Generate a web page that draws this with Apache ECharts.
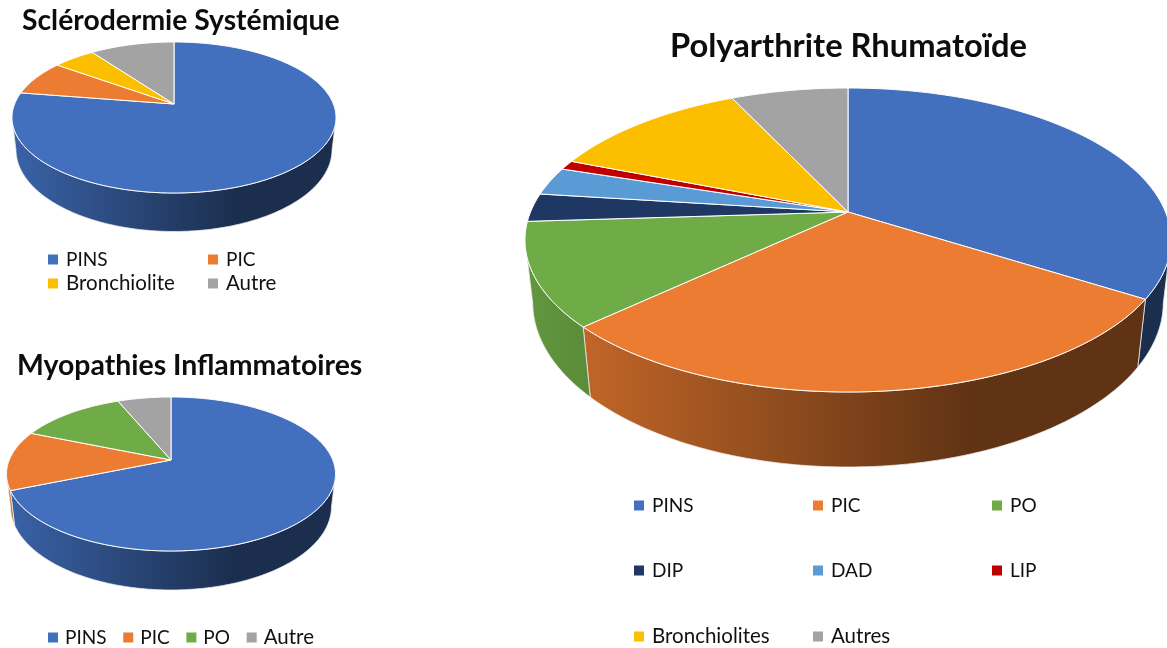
<!DOCTYPE html>
<html>
<head>
<meta charset="utf-8">
<script src="https://cdn.jsdelivr.net/npm/echarts@6/dist/echarts.min.js"></script>
<style>html,body{margin:0;padding:0;background:#fff}#chart{width:1167px;height:648px}</style>
</head>
<body>
<div id="chart"></div>
<script>
// ---- data ----
var ssTitle = 'Sclérodermie Systémique';
var ssNames = ['PINS', 'PIC', 'Bronchiolite', 'Autre'];
var ssValues = [31, 3, 2, 4];

var miTitle = 'Myopathies Inflammatoires';
var miNames = ['PINS', 'PIC', 'PO', 'Autre'];
var miValues = [11, 2, 2, 1];

var prTitle = 'Polyarthrite Rhumatoïde';
var prNames = ['PINS', 'PIC', 'PO', 'DIP', 'DAD', 'LIP', 'Bronchiolites', 'Autres'];
var prValues = [34, 29, 11, 3, 3, 1, 12, 7];

var palette = {
  'PINS': '#4270BF', 'PIC': '#EB7C31', 'PO': '#6FAC47', 'DIP': '#1F3763', 'DAD': '#5B9BD5',
  'LIP': '#C00000', 'Bronchiolite': '#FBBF00', 'Bronchiolites': '#FBBF00',
  'Autre': '#A3A3A3', 'Autres': '#A3A3A3'
};
var FONT = 'Lato';

// ---- perspective disc model (layout only) ----
function makeDisc(ax, ay, rx, back, front, wall) {
  var k = (front - back) / (front + back);
  return { cx: ax, ay: ay, k: k, A: back * (1 + k), B: rx * Math.sqrt(1 - k * k),
           H: wall * (1 - k), D: rx * 8.2, left: ax - rx, width: 2 * rx };
}
function rim(g, t) {
  var w = 1 + g.k * Math.cos(t);
  return [g.cx + g.B * Math.sin(t) / w, g.ay - g.A * Math.cos(t) / w, w];
}
function base(g, t) {
  var p = rim(g, t), dz = g.H / p[2];
  return [g.cx + (p[0] - g.cx) * (1 - dz / g.D), p[1] + dz];
}
function arc(g, a, b, fn) {
  var n = Math.max(2, Math.ceil(Math.abs(b - a) / (Math.PI / 180))), out = [];
  for (var i = 0; i <= n; i++) out.push(fn(g, a + (b - a) * i / n));
  return out;
}
function sliceAngles(values, i) {
  var total = values.reduce(function (s, v) { return s + v; }, 0), before = 0;
  for (var j = 0; j < i; j++) before += values[j];
  return [before / total * 2 * Math.PI, (before + values[i]) / total * 2 * Math.PI];
}
function shade(hex, f) {
  var n = parseInt(hex.slice(1), 16);
  return 'rgb(' + [n >> 16 & 255, n >> 8 & 255, n & 255].map(function (c) { return Math.round(c * f); }).join(',') + ')';
}
function topSeries(g, names, values) {
  return {
    type: 'custom', coordinateSystem: 'none', silent: true, z: 3, animation: false,
    data: values,
    renderItem: function (p, api) {
      var a = sliceAngles(values, p.dataIndex);
      var pts = [[g.cx, g.ay]].concat(arc(g, a[0], a[1], rim));
      return { type: 'polygon', shape: { points: pts },
        style: { fill: palette[names[p.dataIndex]], stroke: '#fff', lineWidth: 1, lineJoin: 'round' } };
    }
  };
}
function wallSeries(g, names, values) {
  var tMin = Math.acos(-g.k), tMax = 2 * Math.PI - tMin;
  return {
    type: 'custom', coordinateSystem: 'none', silent: true, z: 2, animation: false,
    data: values,
    renderItem: function (p, api) {
      var a = sliceAngles(values, p.dataIndex);
      var s = Math.max(a[0], tMin), e = Math.min(a[1], tMax);
      if (e <= s) return null;
      var pts = arc(g, s, e, rim).concat(arc(g, e, s, base));
      var c = palette[names[p.dataIndex]];
      return { type: 'polygon', shape: { points: pts },
        style: { stroke: '#eee', lineWidth: 0.75,
          fill: new echarts.graphic.LinearGradient(g.left, 0, g.left + g.width, 0, [
            { offset: 0, color: shade(c, 0.88) },
            { offset: 0.69, color: shade(c, 0.41) },
            { offset: 1, color: shade(c, 0.41) }
          ], true) } };
    }
  };
}
function legendCarrier(names, values) {
  return { type: 'pie', radius: 0, center: [0, 0], silent: true, animation: false, z: 0,
    label: { show: false }, labelLine: { show: false },
    data: names.map(function (n, i) { return { name: n, value: values[i], itemStyle: { color: palette[n] } }; }) };
}
function legend(left, top, orient, gap, names, textPad) {
  return { left: left, top: top, orient: orient, itemGap: gap, padding: 0,
    data: names.map(function (n) {
      // capitals are wider in this font than in the original, so the mixed-case labels run a little larger
      return { name: n, textStyle: { fontSize: /[a-z]/.test(n) ? 20.5 : 19 } };
    }),
    icon: 'rect', itemWidth: 10, itemHeight: 10, selectedMode: false,
    textStyle: { fontFamily: FONT, fontSize: 19, color: '#111', padding: [0, 0, 0, textPad] } };
}
function title(text, left, top, size) {
  return { text: text, left: left, top: top, padding: 0,
    textStyle: { fontFamily: FONT, fontWeight: 'bold', fontSize: size, color: '#0d0d0d' } };
}

var ssDisc = makeDisc(174, 104, 162, 62, 89, 38.5);
var miDisc = makeDisc(171, 460, 164.5, 63, 91, 39);
var prDisc = makeDisc(848, 212, 323, 124, 180, 75);

var chart = echarts.init(document.getElementById('chart'), null, { renderer: 'canvas' });
chart.setOption({
  backgroundColor: '#fff',
  animation: false,
  title: [
    title(ssTitle, 22, 7, 28.3),
    title(miTitle, 17, 352, 28.4),
    title(prTitle, 670, 30, 32.7)
  ],
  legend: [
    legend(48, 250, 'vertical', 4, [ssNames[0], ssNames[2]], 3),
    legend(208, 250, 'vertical', 4, [ssNames[1], ssNames[3]], 3),
    legend(48, 627, 'horizontal', 16.7, miNames, 2),
    legend(634, 496, 'vertical', 46, [prNames[0], prNames[3], prNames[6]], 3),
    legend(813, 496, 'vertical', 46, [prNames[1], prNames[4], prNames[7]], 3),
    legend(992, 496, 'vertical', 46, [prNames[2], prNames[5]], 3)
  ],
  series: [
    legendCarrier(prNames, prValues),
    legendCarrier(ssNames, ssValues),
    legendCarrier(miNames, miValues),
    wallSeries(ssDisc, ssNames, ssValues), topSeries(ssDisc, ssNames, ssValues),
    wallSeries(miDisc, miNames, miValues), topSeries(miDisc, miNames, miValues),
    wallSeries(prDisc, prNames, prValues), topSeries(prDisc, prNames, prValues)
  ]
});
</script>
</body>
</html>
